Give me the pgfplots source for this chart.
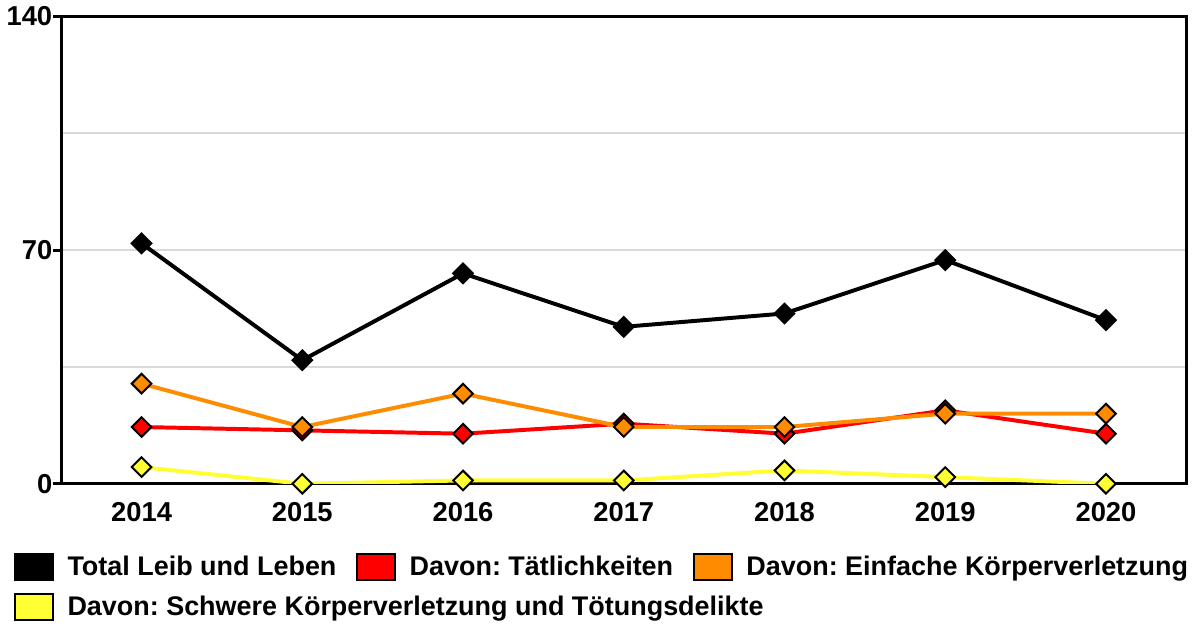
\documentclass[border=0pt]{standalone}
\usepackage{fontspec}
\setmainfont{Liberation Sans}
\usepackage{pgfplots}
\pgfplotsset{compat=1.18}
\definecolor{cBlack}{HTML}{000000}
\definecolor{cRed}{HTML}{FF0000}
\definecolor{cOrange}{HTML}{FF8C00}
\definecolor{cYellow}{HTML}{FFFF33}
\newcommand{\legbox}[1]{\draw[fill=#1, draw=black, line width=1pt] (0pt,-6.5pt) rectangle (19pt,6.5pt);}
\begin{document}
\frenchspacing
\begin{tikzpicture}
\begin{axis}[
    scale only axis,
    width=568pt, height=236pt,
    xmin=-0.5, xmax=6.5,
    ymin=0, ymax=140,
    xtick={0,...,6},
    xticklabels={2014,2015,2016,2017,2018,2019,2020},
    ytick={0,70,140},
    minor ytick={35,105},
    ytick pos=left,
    major x tick style={draw=none},
    minor tick length=0pt,
    ytick style={line width=1.5pt, black},
    tick align=outside,
    major tick length=4pt,
    ymajorgrids, yminorgrids,
    grid style={gray!30, line width=1pt},
    axis line style={line width=1.5pt},
    ticklabel style={font=\fontsize{13.8}{16}\selectfont\bfseries},
    /pgf/number format/assume math mode=true,
    yticklabel style={xshift=3pt},
    xticklabel style={yshift=-2pt},
    legend columns=3,
    legend cell align=left,
    legend style={at={(0,0)}, anchor=north west, xshift=-27pt, yshift=-32pt,
        draw=none, font=\fontsize{13.6}{16}\selectfont\bfseries\frenchspacing,
        /tikz/every even column/.append style={column sep=8pt},
        /tikz/every odd column/.append style={column sep=5pt},
        row sep=5pt},
    every axis plot/.append style={line width=2pt},
]
\addplot[color=cBlack, mark=square*,
    mark options={rotate=45, mark size=3.5pt, fill=cBlack, draw=black, line width=1pt},
    legend image code/.code={\legbox{cBlack}}]
    coordinates {(0,72) (1,37) (2,63) (3,47) (4,51) (5,67) (6,49)};
\addplot[color=cRed, mark=square*,
    mark options={rotate=45, mark size=3.5pt, fill=cRed, draw=black, line width=1pt},
    legend image code/.code={\legbox{cRed}}]
    coordinates {(0,17) (1,16) (2,15) (3,18) (4,15) (5,22) (6,15)};
\addplot[color=cOrange, mark=square*,
    mark options={rotate=45, mark size=3.5pt, fill=cOrange, draw=black, line width=1pt},
    legend image code/.code={\legbox{cOrange}}]
    coordinates {(0,30) (1,17) (2,27) (3,17) (4,17) (5,21) (6,21)};
\addplot[color=cYellow, mark=square*,
    mark options={rotate=45, mark size=3.5pt, fill=cYellow, draw=black, line width=1pt},
    legend image code/.code={\legbox{cYellow}}]
    coordinates {(0,5) (1,0) (2,1) (3,1) (4,4) (5,2) (6,0)};
\legend{Total Leib und Leben, Davon: Tätlichkeiten, Davon: Einfache Körperverletzung,
    \makebox[0pt][l]{Davon: Schwere Körperverletzung und Tötungsdelikte}}
\end{axis}
\end{tikzpicture}
\end{document}
